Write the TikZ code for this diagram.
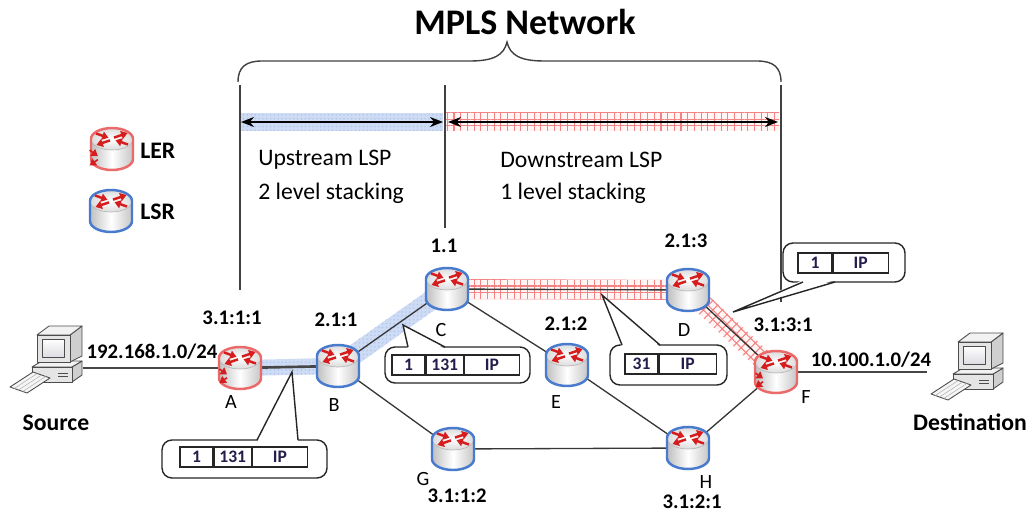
\documentclass[tikz,border=0pt]{standalone}
\usepackage{fontspec}
\setmainfont{Carlito}
\usetikzlibrary{positioning,calc,arrows.meta,patterns.meta}

\definecolor{lsrblue}{RGB}{72,122,205}
\definecolor{lerred}{RGB}{236,105,105}
\definecolor{arrred}{RGB}{214,28,28}
\definecolor{upfill}{RGB}{206,219,245}
\definecolor{gridred}{RGB}{244,130,130}
\definecolor{wirecol}{RGB}{55,55,55}
\definecolor{fieldtxt}{RGB}{35,30,75}

\tikzset{
  rnode/.style={circle, minimum size=0.8cm, inner sep=0pt},
  hostnode/.style={rectangle, minimum width=1.1cm, minimum height=1.5cm, inner sep=0pt},
  wire/.style={draw=wirecol, line width=0.75pt},
  hostwire/.style={draw=gray!55!black, line width=1.5pt},
  guide/.style={draw=black!75, line width=0.8pt},
  lsparrow/.style={draw=black, line width=0.9pt,
    {Stealth[length=0.26cm,width=0.2cm]}-{Stealth[length=0.26cm,width=0.2cm]}},
  upband/.style={fill=upfill, postaction={pattern={Dots[distance=2.2pt,radius=0.45pt]}, pattern color=lsrblue!45}},
  downband/.style={fill=red!4, postaction={pattern={Hatch[angle=#1,distance=3.8pt,line width=0.6pt]}, pattern color=gridred}},
  downband/.default=0,
  rarrow/.style={draw=arrred, line width=1.4pt, -{Triangle[length=3.6pt,width=4.6pt]}},
  pcline/.style={draw=black!70, line width=0.5pt, line join=round},
  lbl/.style={font=\fontsize{11.8}{12}\selectfont\bfseries, inner sep=0pt},
  letter/.style={font=\fontsize{11.5}{12}\selectfont, inner sep=0pt},
  hosttext/.style={font=\fontsize{13.5}{14}\selectfont\bfseries, inner sep=0pt},
  keytext/.style={font=\fontsize{13.5}{14}\selectfont\bfseries, anchor=west, inner sep=0pt},
  streamtext/.style={font=\fontsize{13.5}{14}\selectfont, anchor=west, inner sep=0pt},
  titletext/.style={font=\fontsize{20.5}{24}\selectfont\bfseries, inner sep=0pt},
  callout/.style={draw=black!85, fill=white, line width=0.8pt, rounded corners=0.2cm, inner sep=0pt},
  pointer/.style={draw=black!85, line width=0.8pt},
  field/.style={draw=black!85, line width=0.7pt, minimum width=#1, minimum height=0.4cm,
    inner sep=0pt, text=fieldtxt, font=\fontsize{10}{10}\selectfont\bfseries},
  % router drawn as a cylinder with arrows on its top
  pics/router/.style={code={
    \path[left color=gray!50, right color=gray!45, middle color=white]
      (-21,10) -- (-21,-10) arc[start angle=180, end angle=360, x radius=21, y radius=11] -- (21,10) -- cycle;
    \path[inner color=white, outer color=gray!28] (0,10) ellipse[x radius=21, y radius=11];
    \draw[gray!55, line width=0.4pt] (-21,10) arc[start angle=180, end angle=360, x radius=21, y radius=11];
    \draw[#1, line width=1.4pt]
      (-21,10) arc[start angle=180, end angle=0, x radius=21, y radius=11] -- (21,-10)
      arc[start angle=0, end angle=-180, x radius=21, y radius=11] -- cycle;
    \draw[rarrow] (-16,15.5) -- (-3.5,11.2);
    \draw[rarrow] (16,4.5) -- (3.5,8.8);
    \draw[rarrow] (-2,8.6) -- (-15.5,4);
    \draw[rarrow] (2,11.4) -- (15.5,16);
  }},
  pics/lsr/.style={code={\pic {router=lsrblue};}},
  pics/ler/.style={code={
    \pic {router=lerred};
    \draw[rarrow, line width=0.9pt] (-19,-1) -- (-12,-6);
    \draw[rarrow, line width=0.9pt] (-12,-9) -- (-19,-14);
  }},
  pics/computer/.style={code={
    % case
    \filldraw[pcline, fill=gray!38] (17,-27) -- (27,-20) -- (27,-6) -- (17,-12) -- cycle;
    \filldraw[pcline, fill=gray!10] (-23,-12) -- (17,-12) -- (27,-6) -- (-13,-6) -- cycle;
    \filldraw[pcline, fill=gray!20] (-23,-27) rectangle (17,-12);
    \draw[pcline] (3,-18) -- (13,-18) (3,-21) -- (13,-21);
    % monitor
    \filldraw[pcline, fill=gray!38] (15,-7) -- (27,-1) -- (27,29) -- (15,20) -- cycle;
    \filldraw[pcline, fill=gray!10] (-18,20) -- (15,20) -- (27,29) -- (-6,29) -- cycle;
    \filldraw[pcline, fill=gray!20] (-18,-7) rectangle (15,20);
    \fill[top color=white, bottom color=blue!10!gray!25] (-13,-2) rectangle (9,16);
    \draw[pcline, line width=0.4pt] (-13,-2) rectangle (9,16);
    % keyboard
    \filldraw[pcline, fill=gray!8] (-45,-32) -- (-22,-17) -- (-5,-23) -- (-28,-38) -- cycle;
    \foreach \t in {0.25,0.5,0.75}
      \draw[gray!60, line width=0.3pt] ($(-45,-32)!\t!(-28,-38)$) -- ($(-22,-17)!\t!(-5,-23)$);
  }}
}

\begin{document}
\begin{tikzpicture}[x=0.02cm, y=0.02cm]
\useasboundingbox (0,0) rectangle (1033,-513);

% routers, hosts and legend
\node[rnode] (A) at (240,-368) {};
\node[rnode] (B) at (338,-366) {};
\node[rnode] (C) at (447,-289) {};
\node[rnode] (D) at (688,-290) {};
\node[rnode] (E) at (567,-365) {};
\node[rnode] (F) at (776,-372) {};
\node[rnode] (G) at (453,-449) {};
\node[rnode] (H) at (688,-448) {};
\node[hostnode] (src) at (55,-355) {};
\node[hostnode] (dst) at (976,-362) {};
\node[rnode] (lerkey) at (112,-149) {};
\node[rnode] (lsrkey) at (111,-211) {};

% LSP bands
\fill[upband] (240,-113) rectangle (443,-131);
\fill[downband] (446,-113) rectangle (779,-131);
\foreach \u/\v/\w in {A/B/0.16cm, B/C/0.2cm}
  \fill[upband] ($(\u)!\w!90:(\v)$) -- ($(\u)!\w!-90:(\v)$) -- ($(\v)!\w!90:(\u)$) -- ($(\v)!\w!-90:(\u)$) -- cycle;
\foreach \u/\v/\a in {C/D/0, D/F/45}
  \fill[downband=\a] ($(\u)!0.2cm!90:(\v)$) -- ($(\u)!0.2cm!-90:(\v)$) -- ($(\v)!0.2cm!90:(\u)$) -- ($(\v)!0.2cm!-90:(\u)$) -- cycle;

% brace and guides
\draw[guide] (238,-82) .. controls (238,-67) and (246,-61) .. (262,-61) -- (470,-61)
  .. controls (494,-61) and (504,-55) .. (507,-42) .. controls (510,-55) and (520,-61) .. (544,-61)
  -- (757,-61) .. controls (773,-61) and (781,-67) .. (781,-82);
\coordinate (g1t) at (240,-85);  \coordinate (g1b) at (240,-290);
\coordinate (g2t) at (445,-85);  \coordinate (g2b) at (445,-228);
\coordinate (g3t) at (781,-85);  \coordinate (g3b) at (781,-302);
\draw[guide] (g1t) -- (g1b);
\draw[guide] (g2t) -- (g2b);
\draw[guide] (g3t) -- (g3b);
\coordinate (upL) at (241,-122); \coordinate (upR) at (443,-122);
\coordinate (dnL) at (448,-122); \coordinate (dnR) at (778,-122);
\draw[lsparrow] (upL) -- (upR);
\draw[lsparrow] (dnL) -- (dnR);

% links
\draw[hostwire] (src.east |- A) -- (A);
\draw[hostwire] (A) -- (B);
\draw[hostwire] (F) -- ($(dst.west |- F)+(-21,0)$);
\draw[wire] (B) -- (C);
\draw[wire] (C) -- (D);
\draw[wire] (D) -- (F);
\draw[wire] (C) -- (E);
\draw[wire] (B) -- (G);
\draw[wire] (G) -- (H);
\draw[wire] (E) -- (H);
\draw[wire] (H) -- (F);

% icons
\foreach \r in {B,C,D,E,G,H}
  \pic at (\r) {lsr};
\pic[scale=1.08] at (A) {ler};
\pic[scale=1.08] at (F) {ler};
\pic[scale=1.18] at (lerkey) {ler};
\pic at (lsrkey) {lsr};
\pic at (src) {computer};
\pic at (dst) {computer};

% texts
\node[titletext] (title) at (525,-22) {MPLS Network};
\node[keytext] (lertext) at (140,-151) {LER};
\node[keytext] (lsrtext) at (140,-212) {LSR};
\node[streamtext] (up1) at (258,-160) {Upstream LSP};
\node[streamtext] (up2) at (258,-193) {2 level stacking};
\node[streamtext] (dn1) at (500,-160) {Downstream LSP};
\node[streamtext] (dn2) at (500,-193) {1 level stacking};

\node[lbl] (lA) at (232,-318) {3.1:1:1};
\node[lbl] (lB) at (336,-320) {2.1:1};
\node[lbl] (lC) at (444,-246) {1.1};
\node[lbl] (lD) at (686,-241) {2.1:3};
\node[lbl] (lE) at (566,-324) {2.1:2};
\node[lbl] (lF) at (783,-325) {3.1:3:1};
\node[lbl] (lG) at (457,-496) {3.1:1:2};
\node[lbl] (lH) at (692,-502) {3.1:2:1};
\node[letter] (nA) at (231,-402) {A};
\node[letter] (nB) at (334,-405) {B};
\node[letter] (nC) at (441,-330) {C};
\node[letter] (nD) at (684,-330) {D};
\node[letter] (nE) at (556,-402) {E};
\node[letter] (nF) at (806,-397) {F};
\node[letter] (nG) at (423,-479) {G};
\node[letter] (nH) at (706,-482) {H};
\node[lbl] (srcnet) at (152,-352) {192.168.1.0/24};
\node[lbl] (dstnet) at (871,-360) {10.100.1.0/24};
\node[hosttext] (srctext) at (56,-423) {Source};
\node[hosttext] (dsttext) at (970,-422) {Destination};

% label stacks on the links
\node[callout, minimum width=3.3cm, minimum height=0.76cm] (cb1) at (244.5,-459) {};
\coordinate (t1) at (292,-372); \coordinate (t1a) at (257,-440); \coordinate (t1b) at (298,-440);
\fill[white] ($(t1a)+(0,-2)$) -- (t1) -- ($(t1b)+(0,-2)$) -- cycle;
\draw[pointer] (t1a) -- (t1) -- (t1b);
\node[field=0.66cm] (f1a) at (196.5,-457) {1};
\node[field=0.74cm, right=0pt of f1a] (f1b) {131};
\node[field=1.1cm, right=0pt of f1b] (f1c) {IP};

\node[callout, minimum width=2.9cm, minimum height=0.72cm] (cb2) at (457.5,-365) {};
\coordinate (t2) at (403,-325); \coordinate (t2a) at (408,-347); \coordinate (t2b) at (445,-347);
\fill[white] ($(t2a)+(0,-2)$) -- (t2) -- ($(t2b)+(0,-2)$) -- cycle;
\draw[pointer] (t2a) -- (t2) -- (t2b);
\node[field=0.66cm] (f2a) at (408.5,-365) {1};
\node[field=0.74cm, right=0pt of f2a] (f2b) {131};
\node[field=1.1cm, right=0pt of f2b] (f2c) {IP};

\node[callout, minimum width=2.34cm, minimum height=0.8cm] (cb3) at (668.5,-365) {};
\coordinate (t3) at (602,-295); \coordinate (t3a) at (622,-345); \coordinate (t3b) at (660,-345);
\fill[white] ($(t3a)+(0,-2)$) -- (t3) -- ($(t3b)+(0,-2)$) -- cycle;
\draw[pointer] (t3a) -- (t3) -- (t3b);
\node[field=0.66cm] (f3a) at (641.5,-364) {31};
\node[field=1.14cm, right=0pt of f3a] (f3b) {IP};

\node[callout, minimum width=2.44cm, minimum height=0.78cm] (cb4) at (844,-262.5) {};
\coordinate (t4) at (733,-312); \coordinate (t4a) at (803,-282); \coordinate (t4b) at (835,-282);
\fill[white] ($(t4a)+(0,2)$) -- (t4) -- ($(t4b)+(0,2)$) -- cycle;
\draw[pointer] (t4a) -- (t4) -- (t4b);
\node[field=0.68cm] (f4a) at (815,-263) {1};
\node[field=1.1cm, right=0pt of f4a] (f4b) {IP};
\end{tikzpicture}
\end{document}
